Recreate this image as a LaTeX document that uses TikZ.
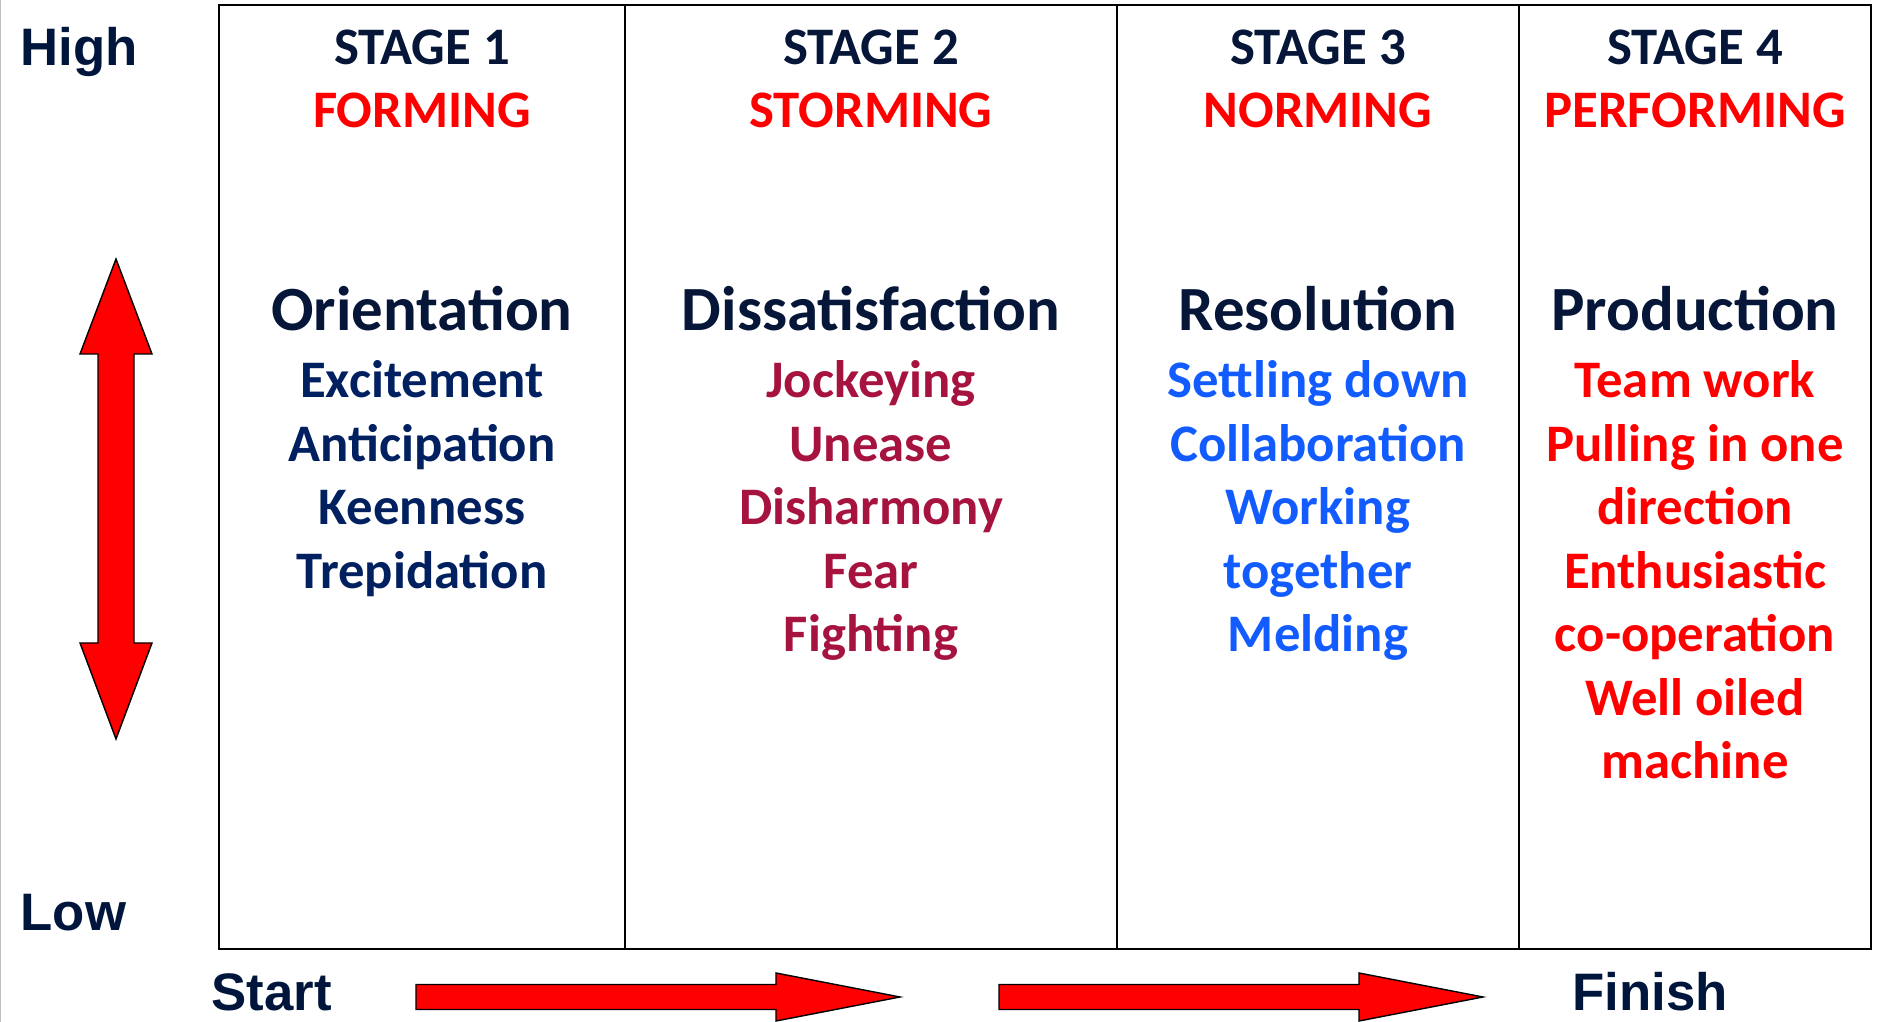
\documentclass[tikz,border=0pt]{standalone}
\usepackage{fontspec}
\setmainfont{Carlito}
\newfontfamily\arialfont{Liberation Sans}
\definecolor{headnavy}{HTML}{061638}
\definecolor{itemnavy}{HTML}{002060}
\definecolor{itemberry}{HTML}{A6133F}
\definecolor{itemblue}{HTML}{125CFF}
\definecolor{axisnavy}{HTML}{00153B}

\begin{document}
\begin{tikzpicture}[x=0.01cm, y=-0.01cm,
		stagelbl/.style={anchor=base, inner sep=0, font=\fontsize{15}{16}\selectfont\bfseries},
		headlbl/.style={anchor=base, inner sep=0, text=headnavy, font=\fontsize{17.9}{20}\selectfont\bfseries},
		itemlbl/.style={anchor=base, inner sep=0, font=\fontsize{15}{16}\selectfont\bfseries},
		axislbl/.style={anchor=base west, inner sep=0, text=axisnavy, font=\arialfont\fontsize{15}{17}\selectfont\bfseries},
		bigarrow/.style={fill=red, draw=black, line width=0.4pt, line join=miter}]
	\useasboundingbox (0,0) rectangle (1878,1022);
	\draw[black!25, line width=0.4pt] (0.7,0) -- (0.7,1022);

	% table frame and columns
	\draw[line width=0.75pt] (219,5) rectangle (1871,949);
	\draw[line width=0.5pt] (625,5) -- (625,949);
	\draw[line width=0.5pt] (1117,5) -- (1117,949);
	\draw[line width=0.5pt] (1519,5) -- (1519,949);

	% stage titles
	\node[stagelbl, text=headnavy] (st1) at (422,65) {STAGE 1};
	\node[stagelbl, text=red] (nm1) at (422,128) {FORMING};
	\node[stagelbl, text=headnavy] (st2) at (871,65) {STAGE 2};
	\node[stagelbl, text=red] (nm2) at (871,128) {STORMING};
	\node[stagelbl, text=headnavy] (st3) at (1318,65) {STAGE 3};
	\node[stagelbl, text=red] (nm3) at (1318,128) {NORMING};
	\node[stagelbl, text=headnavy] (st4) at (1695,65) {STAGE 4};
	\node[stagelbl, text=red] (nm4) at (1695,128) {PERFORMING};

	% column headings
	\node[headlbl] (hd1) at (422,331) {Orientation};
	\node[headlbl] (hd2) at (871,331) {Dissatisfaction};
	\node[headlbl] (hd3) at (1318,331) {Resolution};
	\node[headlbl] (hd4) at (1695,331) {Production};

	% items
	\foreach \t [count=\i] in {Excitement,Anticipation,Keenness,Trepidation}
		\node[itemlbl, text=itemnavy] (orient-\i) at (422,{398+63.5*(\i-1)}) {\t};
	\foreach \t [count=\i] in {Jockeying,Unease,Disharmony,Fear,Fighting}
		\node[itemlbl, text=itemberry] (dissat-\i) at (871,{398+63.5*(\i-1)}) {\t};
	\foreach \t [count=\i] in {Settling down,Collaboration,Working,together,Melding}
		\node[itemlbl, text=itemblue] (resol-\i) at (1318,{398+63.5*(\i-1)}) {\t};
	\foreach \t [count=\i] in {Team work,Pulling in one,direction,Enthusiastic,co-operation,Well oiled,machine}
		\node[itemlbl, text=red] (prod-\i) at (1695,{398+63.5*(\i-1)}) {\t};

	% axis labels
	\node[axislbl] (high) at (20,66) {High};
	\node[axislbl] (low) at (20,931) {Low};
	\node[axislbl] (start) at (211,1011) {Start};
	\node[axislbl] (finish) at (1572,1011) {Finish};

	% level arrow
	\draw[bigarrow] (116,259) -- (152,354) -- (134,354) -- (134,643) -- (152,643)
		-- (116,739) -- (80,643) -- (98,643) -- (98,354) -- (80,354) -- cycle;

	% progress arrows
	\draw[bigarrow] (416,984.5) -- (776,984.5) -- (776,973) -- (900,997) -- (776,1021)
		-- (776,1009.5) -- (416,1009.5) -- cycle;
	\draw[bigarrow] (999,984.5) -- (1359,984.5) -- (1359,973) -- (1483,997) -- (1359,1021)
		-- (1359,1009.5) -- (999,1009.5) -- cycle;
\end{tikzpicture}
\end{document}
